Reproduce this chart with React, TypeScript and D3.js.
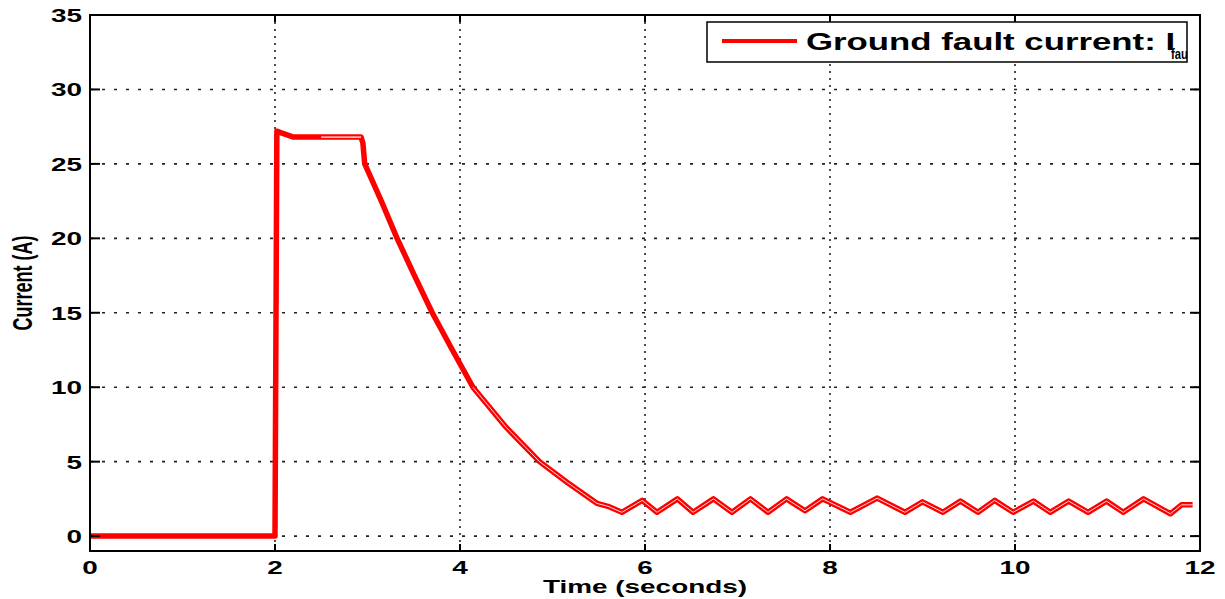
import React from 'react';
import * as d3 from 'd3';

// time (s) and ground fault current (A)
const timeS = [
  0, 2.0, 2.02, 2.06, 2.2, 2.5, 2.93, 2.95, 2.97, 3.15, 3.32, 3.5, 3.7, 3.9, 4.14,
  4.5, 4.86, 5.16, 5.48, 5.6, 5.75, 5.97, 6.13, 6.35, 6.52, 6.74, 6.94, 7.14, 7.33,
  7.53, 7.73, 7.92, 8.22, 8.51, 8.81, 9.0, 9.22, 9.41, 9.6, 9.78, 9.98, 10.2, 10.38,
  10.58, 10.79, 10.99, 11.17, 11.39, 11.68, 11.8, 11.92,
];
const currentA = [
  0, 0, 27.2, 27.1, 26.8, 26.8, 26.8, 26.4, 25.0, 22.5, 20.0, 17.6, 15.0, 12.7, 10.0,
  7.3, 5.0, 3.6, 2.2, 2.0, 1.6, 2.4, 1.6, 2.5, 1.6, 2.5, 1.6, 2.5, 1.6,
  2.5, 1.7, 2.5, 1.6, 2.55, 1.6, 2.3, 1.6, 2.35, 1.6, 2.4, 1.6, 2.35, 1.6,
  2.35, 1.6, 2.35, 1.6, 2.5, 1.5, 2.1, 2.1,
];

const xTicks = [0, 2, 4, 6, 8, 10, 12];
const yTicks = [0, 5, 10, 15, 20, 25, 30, 35];
const legendLabel = 'Ground fault current: I';
const legendSub = 'fault';

const W = 1225;
const H = 599;
const left = 90;
const right = 1200;
const top = 15;
const bottom = 551;
const stretch = 1.55;

const App = () => {
  const x = d3.scaleLinear().domain([0, 12]).range([left, right]);
  const y = d3.scaleLinear().domain([-1, 35]).range([bottom, top]);
  const data = timeS.map((t, i) => ({ t, v: currentA[i] }));
  const line = d3.line<{ t: number; v: number }>().x(d => x(d.t)).y(d => y(d.v));
  // thin gap seen inside the trace where two runs overlap
  const plateau = data.filter(d => d.t >= 2.3 && d.t <= 2.93);
  const tail = data.filter(d => d.t >= 4.14);

  const txt = (tx: number, ty: number, s: string, anchor: string, size = 18) => (
    <text
      transform={`translate(${tx},${ty}) scale(${stretch},1)`}
      textAnchor={anchor}
      fontSize={size}
      fontWeight="bold"
      fontFamily="Liberation Sans, Arial, sans-serif"
    >
      {s}
    </text>
  );

  return (
    <svg width={W} height={H} style={{ position: 'absolute', left: 0, top: 0, background: '#fff' }}>
      <defs>
        <clipPath id="plot">
          <rect x={left} y={top} width={right - left} height={bottom - top} />
        </clipPath>
        <clipPath id="legend">
          <rect x={707} y={22} width={481} height={42} />
        </clipPath>
      </defs>

      {/* grid */}
      {yTicks.map(v => (
        <line key={'gy' + v} x1={left} x2={right} y1={y(v)} y2={y(v)}
          stroke="#222" strokeWidth={1.6} strokeDasharray="3,9" />
      ))}
      {xTicks.map(t => (
        <line key={'gx' + t} x1={x(t)} x2={x(t)} y1={top} y2={bottom}
          stroke="#222" strokeWidth={1.6} strokeDasharray="2,5" />
      ))}

      {/* trace */}
      <g clipPath="url(#plot)">
        <path d={line(data) ?? ''} fill="none" stroke="#ff0000" strokeWidth={5.5} strokeLinejoin="round" />
        <path d={line(plateau) ?? ''} fill="none" stroke="#fff" strokeWidth={1.1} />
        <path d={line(tail) ?? ''} fill="none" stroke="#fff" strokeWidth={1} strokeOpacity={0.85} />
      </g>

      {/* box and ticks */}
      <rect x={left} y={top} width={right - left} height={bottom - top} fill="none" stroke="#000" strokeWidth={2} />
      {yTicks.map(v => (
        <g key={'ty' + v}>
          <line x1={left} x2={left + 10} y1={y(v)} y2={y(v)} stroke="#000" strokeWidth={2} />
          <line x1={right - 10} x2={right} y1={y(v)} y2={y(v)} stroke="#000" strokeWidth={2} />
          {txt(left - 8, y(v) + 7, String(v), 'end')}
        </g>
      ))}
      {xTicks.map(t => (
        <g key={'tx' + t}>
          <line x1={x(t)} x2={x(t)} y1={bottom} y2={bottom - 7} stroke="#000" strokeWidth={2} />
          <line x1={x(t)} x2={x(t)} y1={top} y2={top + 7} stroke="#000" strokeWidth={2} />
          {txt(x(t), 574, String(t), 'middle')}
        </g>
      ))}

      {/* axis labels */}
      <text
        transform={`translate(32,283) rotate(-90) scale(1,${stretch})`}
        textAnchor="middle"
        fontSize={18}
        fontWeight="bold"
        fontFamily="Liberation Sans, Arial, sans-serif"
      >
        Current (A)
      </text>
      {txt(645, 593, 'Time (seconds)', 'middle')}

      {/* legend */}
      <rect x={707} y={22} width={480} height={40} fill="#fff" stroke="#000" strokeWidth={1.5} />
      <line x1={722} x2={797} y1={41} y2={41} stroke="#ff0000" strokeWidth={4} />
      <g clipPath="url(#legend)">
        <text
          transform="translate(806,50) scale(1.45,1)"
          fontSize={24}
          fontWeight="bold"
          fontFamily="Liberation Sans, Arial, sans-serif"
        >
          {legendLabel}
        </text>
        <text
          transform="translate(1171,59) scale(0.75,1)"
          fontSize={15}
          fontWeight="bold"
          fontFamily="Liberation Sans, Arial, sans-serif"
        >
          {legendSub}
        </text>
      </g>
    </svg>
  );
};

export default App;
